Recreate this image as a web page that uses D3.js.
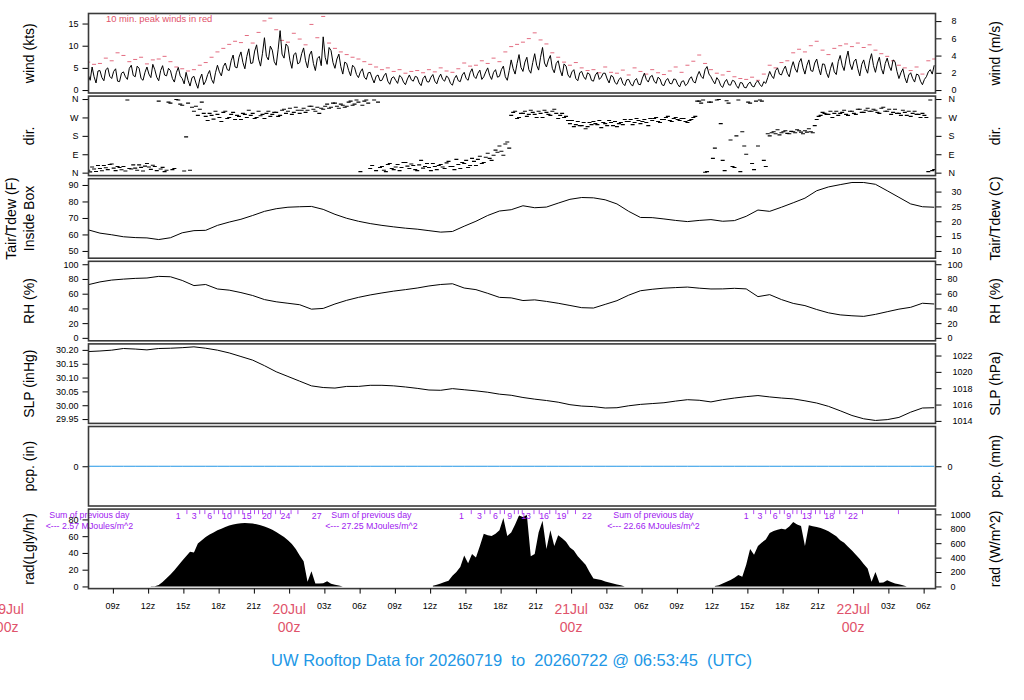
<!DOCTYPE html>
<html>
<head>
<meta charset="utf-8">
<script src="https://cdn.jsdelivr.net/npm/d3@7"></script>
<style>
  body { margin: 0; background: #fff; }
  text { font-family: "Liberation Sans", Arial, Helvetica, sans-serif; }
</style>
</head>
<body>
<svg id="chart" width="1024" height="700"></svg>
<script>
// ---- Data (times in hours since 19 Jul 00z) ----
const tStart = 6.9, tEnd = 78.9;

// wind speed (kts), every 10 min from tStart (one row of 6 per hour)
const windSpeed = [
  3.5,2.2,5.2,3.0,1.6,4.3, 4.4,2.8,2.1,4.6,5.0,3.1, 2.6,4.2,4.8,2.0,1.9,3.8, 4.1,3.0,2.4,4.9,5.6,3.3,
  3.0,5.4,4.9,2.6,2.2,4.0, 5.2,3.6,2.8,5.8,4.6,2.9, 2.1,4.4,5.5,3.4,3.2,4.9, 4.4,2.6,1.8,3.9,5.1,3.2,
  2.6,1.4,4.0,2.2,0.9,2.8, 3.1,1.6,0.4,2.5,3.6,1.2, 2.0,3.5,4.4,2.4,1.5,3.9, 5.6,4.1,3.2,5.3,6.1,4.6,
  4.4,6.6,7.9,5.2,5.0,7.4, 8.6,6.2,4.8,7.6,9.3,6.0, 6.1,8.8,10.2,7.0,5.4,8.3, 11.8,7.6,6.8,9.9,9.0,6.4,
  5.6,9.2,13.4,8.1,7.2,10.4, 9.8,6.7,4.9,8.0,8.4,5.9, 6.2,8.2,9.5,6.6,5.0,7.9, 8.8,6.0,4.4,7.1,7.6,5.5,
  12.0,7.4,5.8,9.6,8.9,6.2, 4.9,7.0,8.1,5.3,3.6,6.3, 6.0,4.4,3.2,5.6,5.1,3.5, 2.8,4.1,4.8,2.9,2.4,3.9,
  4.0,2.7,1.6,3.1,3.4,2.1, 2.2,3.2,3.8,2.0,1.3,2.7, 3.0,2.2,1.5,3.3,2.9,1.8, 1.2,2.5,3.4,2.3,2.0,3.1,
  2.9,1.6,1.0,2.6,3.2,1.9, 1.8,2.9,3.5,2.0,1.4,2.8, 3.6,2.4,2.0,3.2,2.7,1.5, 1.1,2.6,3.3,2.1,1.9,3.4,
  4.0,2.6,2.2,3.9,4.8,3.1, 2.6,3.8,4.5,2.4,3.0,4.1, 5.0,3.3,2.4,4.0,4.6,2.9, 3.1,4.6,5.4,3.0,2.2,4.4,
  6.8,4.8,3.6,6.0,8.0,5.1, 4.2,6.3,7.4,4.6,3.8,6.2, 8.2,5.6,4.5,7.4,9.6,6.1, 5.2,6.8,7.8,4.9,3.9,6.0,
  6.6,4.5,3.2,5.9,5.4,3.4, 2.8,4.1,4.6,2.6,2.1,3.9, 4.2,3.0,2.4,3.9,3.6,2.2, 2.0,3.4,4.0,2.4,2.9,3.8,
  3.8,2.5,1.6,3.3,3.0,1.7, 1.3,2.4,2.8,1.5,1.0,2.3, 2.4,1.4,0.9,2.1,2.6,1.3, 1.2,2.7,3.8,2.4,1.8,3.0,
  3.3,2.0,1.5,2.9,2.5,1.2, 1.0,2.2,2.6,1.5,1.4,2.5, 2.4,1.3,0.7,1.9,2.1,1.0, 1.4,2.5,3.0,1.9,1.6,3.2,
  4.2,3.1,2.6,4.6,5.3,3.6, 3.0,2.1,1.4,2.8,2.2,1.0, 0.6,1.8,2.4,1.2,1.1,2.2, 2.0,1.0,0.4,1.7,1.6,0.6,
  0.5,1.4,1.8,0.9,0.7,1.7, 2.1,1.2,0.8,1.9,1.5,2.8, 4.2,3.2,2.6,4.4,5.0,3.6, 3.4,4.6,5.4,3.8,3.0,5.0,
  6.4,4.8,4.0,6.2,7.1,5.0, 3.6,5.6,6.8,4.4,4.2,6.1, 7.0,4.9,3.4,5.9,5.8,3.9, 2.8,4.8,6.2,4.1,3.5,6.4,
  7.8,5.6,4.4,7.0,8.8,5.9, 4.6,6.4,7.0,4.8,3.2,5.8, 6.8,4.9,3.8,6.6,8.2,5.5, 4.0,6.1,7.4,4.9,3.6,6.0,
  7.2,5.4,4.4,6.8,6.4,4.2, 2.6,3.9,4.8,2.8,1.6,3.4, 3.9,2.6,1.8,3.6,3.4,2.0, 1.2,2.4,3.0,4.1,4.6,3.6,
  5.6
];

// 10 min. peak winds (kts), every 30 min from tStart
const windPeak = [
  6.3,5.8, 6.0,7.2, 6.6,8.4, 7.8,6.4, 6.9,7.4, 5.9,6.8, 7.0,7.6, 6.4,5.2, 4.8,4.3, 4.6,5.6, 6.2,7.4, 8.6,9.4,
  10.3,11.0, 10.7,12.3, 10.6,13.0, 15.6,16.2, 13.6,11.2, 10.8,12.8, 11.5,10.2, 14.8,11.8, 16.6,10.6, 9.4,8.6,
  8.0,7.4, 7.0,6.4, 5.8,5.2, 4.6,5.0, 4.2,4.6, 3.8,4.2, 4.4,3.9, 4.6,4.1, 5.0,4.3, 4.0,4.8, 6.1,5.4, 5.6,6.6,
  6.0,7.2, 6.4,8.6, 9.8,10.3, 10.8,11.6, 12.9,11.3, 10.4,8.4, 7.4,6.3, 5.6,6.2, 5.0,4.4, 4.6,3.9, 5.2,4.0,
  3.8,4.5, 3.4,5.0, 4.2,3.6, 4.6,3.9, 3.5,4.3, 5.2,4.0, 5.6,6.5, 7.9,6.0, 4.6,3.8, 3.4,4.2, 3.0,2.6, 2.4,2.9,
  2.2,3.6, 5.6,5.0, 6.2,6.6, 8.4,9.2, 8.6,10.0, 11.0,9.0, 8.0,9.4, 10.0,10.4, 9.8,10.6, 9.6,10.2, 9.0,8.2,
  7.6,6.6, 5.6,5.0, 4.4,5.2, 3.6,6.6, 7.0
];

// wind direction (deg), every 10 min from tStart (one row of 6 per hour)
const windDir = [
  12,4,28,18,6,35, 20,9,35,24,15,40, 42,22,10,30,25,14, 30,8,355,20,18,38, 22,12,38,26,8,32,
  45,28,16,36,30,10, 350,18,26,5,12,345, 340,15,20,358,355,335, 330,8,175,340,12,320,
  300,325,280,310,345,290, 275,255,290,280,262,300, 285,270,250,295,300,265, 270,285,295,260,280,275,
  260,290,285,270,305,280, 290,265,270,300,278,285, 265,290,300,275,285,295, 295,275,280,305,310,290,
  300,315,285,295,320,305, 290,305,315,295,305,325, 325,310,300,320,290,315, 310,325,335,315,320,340,
  340,325,315,335,330,320, 325,345,350,330,335,355, 345,5,330,350,355,340, 20,35,355,10,345,25,
  30,12,5,40,45,20, 15,28,40,10,25,50, 50,32,20,42,35,15, 10,38,60,22,30,45, 25,10,45,30,15,35,
  40,28,20,48,55,30, 30,15,65,40,20,50, 45,60,25,35,70,55, 35,65,80,45,50,75, 95,70,60,85,110,100,
  130,105,85,140,150,120, 280,295,300,265,270,290, 290,300,275,285,305,295, 285,270,300,290,270,305,
  295,285,280,300,310,290, 265,280,290,270,275,255, 240,255,225,235,250,230, 230,245,215,225,245,235,
  250,240,235,255,220,245, 240,230,255,245,230,250, 225,240,245,235,260,250, 250,260,235,245,265,255,
  240,250,260,245,230,265, 255,265,270,250,245,260, 260,270,275,255,250,265, 270,260,255,265,265,250,
  245,255,260,270,275,350, 350,340,355,2,5,345, 345,70,120,355,358,240, 60,10,352,340,160,30,
  25,180,355,5,200,130, 90,345,340,45,15,350, 130,355,350,60,30,190, 180,195,200,190,210,185,
  195,200,205,192,190,202, 200,195,210,205,198,190, 205,198,215,200,195,230, 260,275,280,295,290,285,
  285,300,270,290,300,280, 290,295,305,285,280,300, 300,290,285,310,310,295, 295,305,315,300,300,310,
  305,295,290,315,320,300, 300,310,285,295,310,290, 290,280,305,295,280,300, 275,290,300,285,285,270,
  290,280,270,5,355,10,
  15
];

// hourly series from tStart
const tempF = [
  62.8,60.8,59.8,58.6,58.1,57.9,56.9,58.0,61.0,62.3,
  62.5,65.5,67.5,69.2,71.5,74.0,75.6,76.5,76.8,77.0,
  75.2,72.2,69.8,68.0,66.6,65.5,64.6,63.8,63.2,62.3,
  61.4,61.8,65.0,68.0,71.5,74.2,75.0,77.4,76.2,76.6,
  79.0,81.3,82.4,82.2,81.0,78.5,74.0,70.3,70.2,69.4,
  68.5,67.8,68.5,69.0,68.0,68.4,71.0,74.8,74.0,76.5,
  79.2,82.0,86.5,88.8,90.2,91.5,91.5,90.4,86.5,82.5,
  78.5,76.8,76.5
];
const tempLimitsF = [45.6, 93.8];

const rhPct = [
  72.2,76,78.5,79.8,80.8,81.3,83.5,83,78,71,
  72.5,66.4,64.8,61.5,57.5,52,49,47,45,39,
  40,46,51,55,58.3,61,63.5,65.5,67.7,70.5,
  72.5,73.5,67.7,65.5,60.5,55,54.3,50.7,51.6,49.5,
  47,44,41,40.5,45.5,50.5,58,64,66,67.5,
  68.3,69,67.5,66.4,66.5,67.3,66.5,56,58.7,52,
  46.8,43.8,38.5,34,31.2,30,29.2,31.9,35.5,39,
  41.5,47,46
];

const slpInHg = [
  30.194,30.196,30.199,30.205,30.203,30.200,30.205,30.206,30.208,30.211,
  30.206,30.199,30.189,30.176,30.163,30.143,30.121,30.104,30.087,30.070,
  30.064,30.062,30.068,30.068,30.072,30.072,30.070,30.066,30.061,30.055,
  30.054,30.060,30.056,30.052,30.047,30.040,30.036,30.028,30.022,30.017,
  30.011,30.002,29.997,29.995,29.990,29.991,29.998,30.003,30.006,30.009,
  30.015,30.020,30.018,30.012,30.020,30.026,30.031,30.035,30.030,30.026,
  30.023,30.016,30.008,29.996,29.980,29.963,29.951,29.945,29.948,29.956,
  29.975,29.990,29.991
];

const pcpIn = [
  0,0,0,0,0,0,0,0,0,0, 0,0,0,0,0,0,0,0,0,0, 0,0,0,0,0,0,0,0,0,0, 0,0,0,0,0,0,0,0,0,0,
  0,0,0,0,0,0,0,0,0,0, 0,0,0,0,0,0,0,0,0,0, 0,0,0,0,0,0,0,0,0,0, 0,0,0
];

// solar radiation (W/m^2), every 20 min; each day starts at a 20-min sample index
const radStartIdx = [16, 88, 160];
const radDay1 = [2,4,20,60,115,165,225,290,355,420, 480,470,595,640,685,720,750,780,800,825,
  845,860,870,877,880,878,874,862,848,832, 810,785,755,720,685,640,590,520,430,350,
  64,212,42,40,45,73,38,25,12,0];
const radDay2 = [10,25,40,60,80,150,200,270,430,320, 450,400,560,730,710,700,730,780,950,700,
  750,860,985,965,990,420,450,750,910,520, 780,560,710,670,620,540,500,420,360,300,
  200,110,100,90,70,55,42,28,15,0];
const radDay3 = [5,15,40,65,88,120,157,134,300,520, 440,560,610,650,740,770,785,800,790,830,
  895,860,840,560,850,835,825,810,790,765, 730,695,640,605,550,500,440,380,310,250,
  64,200,50,55,85,60,42,30,15,0];
const radLimitsW = [-30, 1073];
const radCumLabels = [[1,3,6,10,15,20,24,27], [1,3,6,9,13,16,19,22], [1,3,6,9,13,18,22]];
const radSumTimes = [7, 31, 55];
const radSums = [2.57, 27.25, 22.66];

const timeTicks = d3.range(0, 79, 3);
const title = "UW Rooftop Data for 20260719  to  20260722 @ 06:53:45  (UTC)";

// ---- Layout ----
const red = "#DF536B", blue = "#2297E6", purple = "#A020F0";
const svg = d3.select("#chart");
const frameL = 88.5, frameR = 935.5;
const panelH = 79.5;
const panelTop = k => 13.5 + 82.6 * k;

const x = d3.scaleLinear().domain([tStart, tEnd]).range([88.2, 934.2]);
const rPad = ext => { const r = ext[1] - ext[0]; return [ext[0] - 0.04 * r, ext[1] + 0.04 * r]; };

function makePanel(k, domain) {
  const y0 = panelTop(k);
  const y = d3.scaleLinear().domain(domain).range([y0 + panelH, y0]);
  svg.append("clipPath").attr("id", "clip" + k)
    .append("rect").attr("x", frameL).attr("y", y0).attr("width", frameR - frameL).attr("height", panelH);
  const plot = svg.append("g").attr("clip-path", `url(#clip${k})`);
  return { k, y, y0, plot };
}

function styleAxis(a) {
  a.select(".domain").remove();
  a.selectAll("text").attr("font-size", 9).attr("fill", "#000")
    .attr("font-family", '"Liberation Sans", Arial, sans-serif');
  a.selectAll("line").attr("stroke", "#000");
}
function leftAxis(scale, ticks, fmt) {
  const a = svg.append("g").attr("transform", `translate(${frameL},0)`)
    .call(d3.axisLeft(scale).tickValues(ticks).tickSize(6).tickPadding(4).tickFormat(fmt));
  styleAxis(a);
}
function rightAxis(scale, ticks, fmt, pad) {
  const a = svg.append("g").attr("transform", `translate(${frameR},0)`)
    .call(d3.axisRight(scale).tickValues(ticks).tickSize(6).tickPadding(pad).tickFormat(fmt));
  styleAxis(a);
}
function yTitle(txt, cx, cy) {
  svg.append("text").attr("transform", `translate(${cx},${cy}) rotate(-90)`)
    .attr("text-anchor", "middle").attr("font-size", 14).attr("fill", "#000").text(txt);
}
function frame(p) {
  svg.append("rect").attr("x", frameL).attr("y", p.y0).attr("width", frameR - frameL).attr("height", panelH)
    .attr("fill", "none").attr("stroke", "#3a3a3a").attr("stroke-width", 1.6);
}
const mid = p => p.y0 + panelH / 2;
const t10 = i => tStart + i / 6;
const t20 = i => tStart + i / 3;
const t30 = i => tStart + i / 2;
const t60 = i => tStart + i;

// ---- 1. wind ----
const pw = makePanel(0, rPad([0, d3.max(windSpeed.concat(windPeak))]));
pw.plot.selectAll("line.peak").data(windPeak).join("line").attr("class", "peak")
  .attr("x1", (d, i) => x(t30(i)) - 2).attr("x2", (d, i) => x(t30(i)) + 2)
  .attr("y1", d => pw.y(d)).attr("y2", d => pw.y(d))
  .attr("stroke", red).attr("stroke-width", 1).attr("opacity", 0.85);
pw.plot.append("path").datum(windSpeed)
  .attr("d", d3.line().x((d, i) => x(t10(i))).y(d => pw.y(d)))
  .attr("fill", "none").attr("stroke", "#000").attr("stroke-width", 1);
svg.append("text").attr("x", 106).attr("y", 22).attr("font-size", 9.4).attr("fill", red)
  .text("10 min. peak winds in red");
leftAxis(pw.y, [0, 5, 10, 15], d3.format("d"));
const ms = d3.scaleLinear().domain(pw.y.domain().map(v => v * 0.514444)).range(pw.y.range());
rightAxis(ms, [0, 2, 4, 6, 8], d3.format("d"), 10);
yTitle("wind (kts)", 33.6, mid(pw));
yTitle("wind (m/s)", 999.6, mid(pw));
frame(pw);

// ---- 2. direction ----
const pd = makePanel(1, rPad([0, 360]));
pd.plot.selectAll("line.dir").data(windDir).join("line").attr("class", "dir")
  .attr("x1", (d, i) => x(t10(i)) - 2).attr("x2", (d, i) => x(t10(i)) + 2)
  .attr("y1", d => pd.y(d)).attr("y2", d => pd.y(d))
  .attr("stroke", "#000").attr("stroke-width", 1.1);
const compass = { 0: "N", 90: "E", 180: "S", 270: "W", 360: "N" };
leftAxis(pd.y, [0, 90, 180, 270, 360], d => compass[d]);
rightAxis(pd.y, [0, 90, 180, 270, 360], d => compass[d], 7);
yTitle("dir.", 33.6, mid(pd));
yTitle("dir.", 999.6, mid(pd));
frame(pd);

// ---- 3. temperature ----
const pt = makePanel(2, tempLimitsF);
pt.plot.append("path").datum(tempF)
  .attr("d", d3.line().x((d, i) => x(t60(i))).y(d => pt.y(d)))
  .attr("fill", "none").attr("stroke", "#000").attr("stroke-width", 1);
leftAxis(pt.y, [50, 60, 70, 80, 90], d3.format("d"));
const degC = d3.scaleLinear().domain(pt.y.domain().map(f => (f - 32) * 5 / 9)).range(pt.y.range());
rightAxis(degC, [10, 15, 20, 25, 30], d3.format("d"), 10);
yTitle("Tair/Tdew (F)", 15.8, mid(pt));
yTitle("Inside Box", 33.6, mid(pt));
yTitle("Tair/Tdew (C)", 999.6, mid(pt));
frame(pt);

// ---- 4. RH ----
const pr = makePanel(3, rPad([0, 100]));
pr.plot.append("path").datum(rhPct)
  .attr("d", d3.line().x((d, i) => x(t60(i))).y(d => pr.y(d)))
  .attr("fill", "none").attr("stroke", "#000").attr("stroke-width", 1);
leftAxis(pr.y, [0, 20, 40, 60, 80, 100], d3.format("d"));
rightAxis(pr.y, [0, 20, 40, 60, 80, 100], d3.format("d"), 6);
yTitle("RH (%)", 33.6, mid(pr));
yTitle("RH (%)", 999.6, mid(pr));
frame(pr);

// ---- 5. SLP ----
const ps = makePanel(4, rPad(d3.extent(slpInHg)));
ps.plot.append("path").datum(slpInHg)
  .attr("d", d3.line().x((d, i) => x(t60(i))).y(d => ps.y(d)))
  .attr("fill", "none").attr("stroke", "#000").attr("stroke-width", 1);
leftAxis(ps.y, [29.95, 30.0, 30.05, 30.10, 30.15, 30.20], d3.format(".2f"));
const hPa = d3.scaleLinear().domain(ps.y.domain().map(v => v * 33.8639)).range(ps.y.range());
rightAxis(hPa, [1014, 1016, 1018, 1020, 1022], d3.format("d"), 11);
yTitle("SLP (inHg)", 33.6, mid(ps));
yTitle("SLP (hPa)", 999.6, mid(ps));
frame(ps);

// ---- 6. precipitation ----
const pp = makePanel(5, [-1, 1]);
pp.plot.append("path").datum(pcpIn)
  .attr("d", d3.line().x((d, i) => x(t60(i))).y(d => pp.y(d)))
  .attr("fill", "none").attr("stroke", blue).attr("stroke-width", 1);
leftAxis(pp.y, [0], d3.format("d"));
rightAxis(pp.y, [0], d3.format("d"), 6);
yTitle("pcp. (in)", 33.6, mid(pp));
yTitle("pcp. (mm)", 999.6, mid(pp));
frame(pp);

// ---- 7. radiation ----
const pq = makePanel(6, radLimitsW);
const radDays = [radDay1, radDay2, radDay3];
radDays.forEach((vals, d) => {
  const area = d3.area()
    .x((v, j) => x(t20(radStartIdx[d] + j)))
    .y0(pq.y(0))
    .y1(v => pq.y(v));
  pq.plot.append("path").datum(vals).attr("d", area).attr("fill", "#000").attr("stroke", "none");
});

// cumulative daily energy (MJ/m^2) marks along the top
const dayTotals = radDays.map(v => d3.sum(v) * 1200 / 1e6);
const known = [radSums[1] / dayTotals[0], radSums[2] / dayTotals[1]];
const ratios = [known[0], known[1], d3.mean(known)];
radDays.forEach((vals, d) => {
  const cum = Array.from(d3.cumsum(vals, v => v * 1200 / 1e6 * ratios[d]));
  const top = Math.floor(cum[cum.length - 1]);
  for (let m = 1; m <= top; m++) {
    const j = cum.findIndex(c => c >= m);
    const c0 = j > 0 ? cum[j - 1] : 0;
    const t = t20(radStartIdx[d] + j - 1) + (m - c0) / (cum[j] - c0) / 3;
    const xm = x(t);
    if (radCumLabels[d].includes(m)) {
      svg.append("text").attr("x", xm).attr("y", pq.y0 + 9.5).attr("text-anchor", "middle")
        .attr("font-size", 8.8).attr("fill", purple).text(m);
    } else {
      svg.append("line").attr("x1", xm).attr("x2", xm).attr("y1", pq.y0 + 1).attr("y2", pq.y0 + 5)
        .attr("stroke", purple).attr("stroke-width", 0.8);
    }
  }
});
radSums.forEach((s, i) => {
  const xs = x(radSumTimes[i]);
  svg.append("text").attr("x", xs).attr("y", pq.y0 + 9.2).attr("text-anchor", "middle")
    .attr("font-size", 8.8).attr("fill", purple).text("Sum of previous day");
  svg.append("text").attr("x", xs).attr("y", pq.y0 + 20.2).attr("text-anchor", "middle")
    .attr("font-size", 8.8).attr("fill", purple).text(`<--- ${s.toFixed(2)} MJoules/m^2`);
});
const langley = d3.scaleLinear().domain(pq.y.domain().map(w => w / 11.622)).range(pq.y.range());
leftAxis(langley, [0, 20, 40, 60, 80], d3.format("d"));
rightAxis(pq.y, [0, 200, 400, 600, 800, 1000], d3.format("d"), 9);
yTitle("rad(Lgly/hr)", 33.6, mid(pq));
yTitle("rad (W/m^2)", 999.6, mid(pq));
frame(pq);

// ---- time axis ----
const bottom = pq.y0 + panelH;
const inRange = timeTicks.filter(h => h >= tStart && h <= tEnd);
const ta = svg.append("g").attr("transform", `translate(0,${bottom})`)
  .call(d3.axisBottom(x).tickValues(inRange).tickSize(5).tickFormat(""));
styleAxis(ta);
timeTicks.forEach(h => {
  if (h % 24 === 0) {
    svg.append("text").attr("x", x(h)).attr("y", 614).attr("text-anchor", "middle")
      .attr("font-size", 14).attr("fill", red).text(`${19 + h / 24}Jul`);
    svg.append("text").attr("x", x(h)).attr("y", 631.5).attr("text-anchor", "middle")
      .attr("font-size", 14).attr("fill", red).text("00z");
  } else if (h >= tStart && h <= tEnd) {
    svg.append("text").attr("x", x(h)).attr("y", 609.3).attr("text-anchor", "middle")
      .attr("font-size", 9).attr("fill", "#000").text(String(h % 24).padStart(2, "0") + "z");
  }
});

// ---- title ----
svg.append("text").attr("x", 511.5).attr("y", 666).attr("text-anchor", "middle")
  .attr("font-size", 16.5).attr("fill", blue).style("white-space", "pre").text(title);
</script>
</body>
</html>
